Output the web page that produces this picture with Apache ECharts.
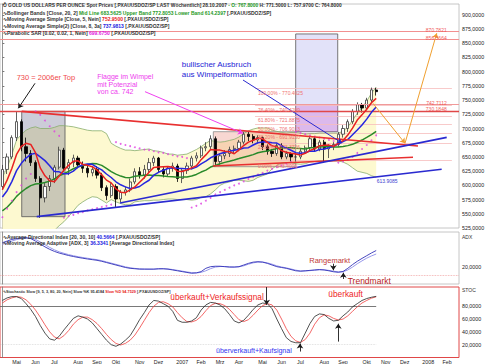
<!DOCTYPE html>
<html>
<head>
<meta charset="utf-8">
<script src="https://cdn.jsdelivr.net/npm/echarts@6/dist/echarts.min.js"></script>
<style>
html,body{margin:0;padding:0;background:#fff;}
#chart{width:489px;height:364px;}
</style>
</head>
<body>
<div id="chart"></div>
<script>
// ---------- categories (weekly) ----------
const firstWeekUTC = Date.UTC(2006, 3, 16);
const weekCount = 97;
const categories = [];
for (let i = 0; i < weekCount; i++) categories.push(new Date(firstWeekUTC + i * 604800000).toISOString().slice(0, 10));
const monthNames = ['Jan','Feb','Mrz','Apr','Mai','Jun','Jul','Aug','Sep','Okt','Nov','Dez'];

// ---------- price (weekly OHLC) ----------
const open  = [598,628,650,684,712,668,656,640,612,578, 598,612,632,662,630,640,648,636,630,622, 628,618,596,582,598,576,588,592,606,624, 618,628,640,648,628,620,630,634,612,626, 634,648,652,666,668,682,642,652,656,663, 665,676,690,686,680,684,668,660,656,670, 650,656,650,650,660,666,682,664,676,664, 668,672,690,700,712,730,742,736,750,767.8];
const close = [628,650,684,712,668,656,640,612,578,598, 612,632,662,630,640,648,636,630,622,628, 618,596,582,598,576,588,592,606,624,618, 628,640,648,628,620,630,634,612,626,634, 648,652,666,668,682,642,652,656,663,665, 676,690,686,680,684,668,660,656,670,650, 656,650,650,660,666,682,664,676,664,668, 672,690,700,712,730,742,736,750,768,764.8];
const low   = [592,620,646,678,660,642,634,606,543,570, 590,604,628,624,618,632,630,622,614,616, 612,590,574,578,562,570,582,588,602,612, 612,622,634,622,614,616,624,606,604,620, 628,642,648,660,662,636,636,646,650,656, 660,672,678,674,674,662,654,650,652,646, 646,642,642,646,656,662,660,660,640,648, 662,668,684,694,708,724,728,732,746,757.97];
const high  = [636,656,688,730,716,684,662,644,616,604, 618,636,668,666,646,654,652,642,636,632, 634,622,600,604,602,592,598,612,630,632, 636,648,652,650,632,634,640,638,630,640, 652,658,670,676,688,686,656,662,668,670, 680,694,694,690,688,686,672,664,674,674, 660,658,656,664,670,686,686,680,680,672, 676,694,706,716,734,746,745,754,772,771.5];

// ---------- overlays ----------
const bbMid   = [555.3,561.5,570.2,580.6,588.2,594.5,599.5,602.5,603.4,604.9, 607.5,611.4,617,620.5,624.7,629.2,632.7,635.1,636.8,638.3, 637.8,635.1,630,624.3,619.7,616.3,613.9,613.6,615.9,616.9, 617.7,618.1,617.4,617.3,616.3,615.4,615.3,614.4,614.6,614.9, 616.4,619.2,623.4,626.9,632.2,634.9,637.9,640.4,642.4,644.7, 647.1,649.6,651.5,654.1,657.3,659.2,660.5,662.7,664.9,665.7, 666.1,666,665.2,664.8,664,666,666.6,667.6,667.7,667.8, 667.6,667.6,668.3,669.9,672.2,675.9,679.7,684.4,689.3,695];
const bbUpper = [614,631,654,680,689,697,701,703,700,700, 700,702,705,705,704,703,701,699,697,696, 696,696,691,674,669,665,662,662,661,662, 663,664,661,660,658,655,655,653,654,655, 659,663,668,674,679,677,676,677,679,681, 685,691,696,699,701,701,701,697,695,693, 692,693,693,692,690,691,691,692,692,692, 692,692,695,703,714,727,737,748,762,772.8];
const bbLower = [496,492,486,482,487,492,498,502,507,510, 515,521,529,536,545,555,565,571,576,580, 579,574,569,575,571,568,566,566,571,572, 573,573,574,574,575,576,576,575,575,575, 574,575,579,580,585,592,600,604,606,609, 609,608,607,609,614,617,620,629,635,639, 640,640,638,637,638,641,642,643,643,643, 643,643,641,637,631,625,623,621,617,614.2];
const sma5    = [592.2,609.2,629.6,654.4,668.4,674,672,657.6,630.8,616.8, 608,606.4,616.4,626.8,635.2,642.4,643.2,636.8,635.2,632.8, 626.8,618.8,609.2,604.4,594,588,587.2,592,597.2,605.6, 613.6,623.2,631.6,632.4,632.8,633.2,632,624.8,624.4,627.2, 630.8,634.4,645.2,653.6,663.2,662,662,660,659,655.6, 662.4,670,676,679.4,683.2,681.6,675.6,669.6,667.6,660.8, 658.4,656.4,655.2,653.2,656.4,661.6,664.4,669.6,670.4,670.8, 668.8,674,678.8,688.4,700.8,714.8,724,734,745.2,752.95];
const sma8    = [579.4,590.6,606.6,625.9,638.8,648,654.5,656.3,650,643.5, 634.5,624.5,623.8,620.5,620.5,625,632.3,636.3,637.5,637, 631.5,627.3,620,613.8,606.3,601,597.3,594.5,595.3,598, 603.8,609,618,623,626.5,629.5,630.8,630,629.8,629, 629,632,637.8,642.5,648.5,652.3,655.5,658.3,660.1,661.8, 663,665.8,666.3,671,675,676.5,676.1,675,674.3,669.3, 665.5,661.8,657.5,656.5,657.3,660.5,659.8,663,664,666.3, 669,672.8,677,680.8,689,697.3,706.3,716.5,728.5,737.98];
const psar    = [544,559,573,588,600,612,620,730,724,714, 704,695,687,543,546,548,551,553,556,558, 560,562,564,566,676,673,671,669,667,665, 663,662,660,658,657,655,653,651,650,648, 561,564,568,573,578,584,588,592,596,600, 603,607,611,615,619,622,626,629,632,635, 638,641,694,692,690,688,686,684,682,680, 678,640,642,645,650,657,664,671,679,688];

// ---------- ADX panel ----------
const adx   = [50,52,54,55,56,56,55,52,48.5,45, 42,39.5,37.5,36,34.5,33.3,32.2,31.2,30.3,29.5, 28.7,27.5,26,24.5,23,21.5,20,19,18.5,18, 18,18,18,18.5,18.5,18,17,16,15,14, 13,13.5,15,19,21,21.5,21.5,21,20.5,20.5, 21,23,25,26.5,27,26.5,25,23,21,20, 19,17.5,16,15.5,16,16.5,17,17.5,17,16, 14.8,14.2,15.2,19,23.5,27.5,31,34.3,37.6,40.5664];
const adxMA = [48,50,52,53.8,55,55.8,55.6,54,51,47.6, 44.3,41.4,39,37.2,35.6,34.3,33.1,32.1,31.2,30.3, 29.5,28.3,26.8,25.3,23.8,22.3,20.8,19.7,18.9,18.4, 18.1,18,18,18.2,18.4,18.2,17.5,16.6,15.6,14.6, 13.8,13.4,14.1,16,18.6,20.5,21.2,21.2,20.8,20.6, 20.8,22,24,25.6,26.6,26.6,25.6,24,22,20.6, 19.5,18.2,16.8,15.8,15.8,16.2,16.7,17.2,17.2,16.5, 15.5,14.7,14.8,17,20.5,24.5,28,31.3,34,36.3341];

// ---------- Stochastic panel ----------
const stochK = [89,93,95,95,92,84,75,64,50,38, 29,27,33,43,52,61,65,63,60,54, 45,36,27,20,17.5,21,27,34,46,59, 70,82,89,88,84,80,72,58,55,55, 57,62,74,82,86,85,82,76,67,57, 54,58,66,75,82,85,84,76,60,45, 31,25,23,23,38,53,64,68,67,61, 57,58,65,71,79,84,89,92,94,95.4184];
const stochD = [85,90,93,95,94,90,83,74,63,51, 40,32,29,34,42,52,59,63,63,59, 53,45,36,28,22,19.5,22,27,35,46, 58,70,80,86,87,84,79,70,62,56, 55.5,58,64,73,81,84.5,84,81,75,67, 59,56,59,66,74,81,84,82,74,60, 45,33,26,23.5,28,38,52,62,66.5,65, 61,58.5,60,65,72,79,85,89,92.5,94.7529];

// ---------- drawn annotations (data units: week index, value) ----------
const levelLines = [870.7821, 856.5664, 742.7112, 730.1848];
const trendRed  = [[4.09,730.2,87.83,669.2],[44.5,634.1,86.78,649.4]];
const trendBlue = [[7.26,544.9,92.84,628.3],[24.86,569,93.9,684.5]];
const arrowsMain = [
  {c:[50.85,785.3,71.77,674.5], k:'blue'},
  {c:[30.14,764.8,50.85,691.6], k:'mag'},
  {c:[6.9,779.5,3.37,735.6], k:'black'},
  {c:[78.32,744.3,85.09,674.0], k:'orange'},
  {c:[85.09,674.0,91.79,867.5], k:'orange'}
];
const fibSpan = [53.4, 95.0];
const fibLevels = [[100,770.4025],[76.4,740.4299],[61.8,721.8875],[50,706.9013],[38.2,691.9150],[23.6,673.3726],[0,643.4000]];
const boxes = [
  {c:[4.09,730.18,13.24,544.9], k:'gray'},
  {c:[44.58,694.4,61.99,632.8], k:'salmon'},
  {c:[61.99,866.3,70.87,694.4], k:'lav'},
  {c:[61.99,742.71,70.87,694.4], k:'pink'}
];
const notesMain = [
  {x:3.03, y:790.1, t:'730 = 2006er Top', s:'top'},
  {x:20.06, y:790.6, t:'Flagge im Wimpel', s:'flag'},
  {x:20.06, y:777.4, t:'mit Potenzial', s:'flag'},
  {x:20.06, y:764.8, t:'von ca. 742', s:'flag'},
  {x:37.9, y:813, t:'bullischer Ausbruch', s:'blue'},
  {x:37.9, y:795.4, t:'aus Wimpelformation', s:'blue'},
  {x:79.1, y:608.2, t:'613.9085', s:'bbl'},
  {x:93.9, y:873.3, t:'870.7821', s:'lvl'},
  {x:93.9, y:859.2, t:'856.5664', s:'lvl'},
  {x:93.9, y:745.4, t:'742.7112', s:'lvl'},
  {x:93.9, y:734.9, t:'730.1848', s:'lvl'}
];
const fibLabelY = [761.9,732.6,715.0,699.7,685.6,667.0,634.1];
const notesADX = [
  {x:64.86, y:28.2, t:'Rangemarkt', s:'range'},
  {x:72.98, y:4.0, t:'Trendmarkt', s:'trend'}
];
const arrowsADX = [[69.94,24.6,69.94,16.6],[72.05,6.1,72.05,13.7]];
const notesStoch = [
  {x:35.5, y:94.5, t:'überkauft+Verkaufssignal', s:'ok'},
  {x:68.88, y:99.1, t:'überkauft', s:'ok'},
  {x:45.15, y:10.8, t:'überverkauft+Kaufsignal', s:'ov'}
];
const arrowsStoch = [[55.86,110,55.86,82.2],[62.9,9.3,62.9,21.7],[70.99,24.8,70.99,52.7]];
const stochLevels = [[80,'#6a6a6a','solid'],[20,'#b0b0b0','dotted']];

// ---------- styles ----------
const FONT = 'Liberation Sans, Arial, Helvetica, sans-serif';
const noteStyles = {
  top:{c:'#f04a4a', f:7.5}, flag:{c:'#ee3cee', f:7}, blue:{c:'#2626d6', f:8},
  bbl:{c:'#4040d0', f:5}, lvl:{c:'#f05a5a', f:5, a:'right'}, fib:{c:'#f07070', f:5},
  range:{c:'#c03838', f:7.5}, trend:{c:'#b82424', f:8.5}, ok:{c:'#ee1e1e', f:8.3}, ov:{c:'#3434f0', f:7}
};
const arrowColors = {blue:'#2a2ad0', mag:'#f040f0', black:'#1a1a1a', orange:'#f0a030'};
const boxStyles = {
  gray:{fill:'rgba(85,85,125,0.30)', stroke:'#555'},
  salmon:{fill:'rgba(235,140,125,0.35)', stroke:'#8a8a8a'},
  lav:{fill:'rgba(150,150,235,0.28)', stroke:'#555'},
  pink:{fill:'rgba(205,90,205,0.30)', stroke:null}
};
const fmt4 = v => v.toFixed(4).replace('.', ',');

function textSeries(xi, yi, notes) {
  return {
    type:'custom', xAxisIndex:xi, yAxisIndex:yi, z:30, silent:true, clip:false,
    data: notes.map(n => [n.x, n.y]),
    renderItem: (params, api) => {
      const n = notes[params.dataIndex];
      const s = noteStyles[n.s];
      const p = api.coord([api.value(0), api.value(1)]);
      return {type:'text', x:p[0], y:p[1], style:{text:n.t, fill:s.c, fontSize:s.f, fontFamily:FONT, align:s.a || 'left', verticalAlign:'middle'}};
    }
  };
}
function lineSeries(xi, yi, segs, color, width, arrow, z) {
  return {
    type:'lines', coordinateSystem:'cartesian2d', xAxisIndex:xi, yAxisIndex:yi, silent:true, z:z || 20,
    symbol: arrow ? ['none','arrow'] : ['none','none'], symbolSize: arrow ? 5 : 0,
    lineStyle:{color:color, width:width, opacity:1, curveness:0},
    data: segs.map(c => ({coords:[[c[0],c[1]],[c[2],c[3]]]}))
  };
}

const candleData = open.map((o, i) => [o, close[i], low[i], high[i]]);
const bandWidth = bbUpper.map((u, i) => u - bbLower[i]);
const last = close.length - 1;

const fibNotes = fibLevels.map((f, i) => ({x: fibSpan[0] + 0.6, y: fibLabelY[i], t: f[0].toFixed(2) + '% - ' + f[1].toFixed(4), s:'fib'}));

function makeRich(size) {
  return {
    d:{color:'#333', fontSize:size, fontFamily:FONT},
    g:{color:'#1f9a1f', fontSize:size, fontFamily:FONT},
    r:{color:'#e82020', fontSize:size, fontFamily:FONT},
    b:{color:'#2020e0', fontSize:size, fontFamily:FONT},
    m:{color:'#e020e0', fontSize:size, fontFamily:FONT}
  };
}
function legendLine(top, text, size) {
  const s = size || 5;
  return {left:3, top:top, text:text, textStyle:{rich:makeRich(s), fontSize:s, lineHeight:s + 1}, padding:0};
}

const option = {
  animation:false,
  backgroundColor:'#fff',
  title:[
    legendLine(2.5, '{d|Ô GOLD US DOLLARS PER OUNCE Spot Prices [.PXAUUSDOZ/SP LAST Wöchentlich] 28.10.2007 }{g|- O: 767.8000}{d| H: 771.5000 L: 757.9700 C: 764.8000}', 4.85),
    legendLine(9.7, '{d|∿Bollinger Bands [Close, 20, 2] }{g|Mid Line 683.5625 Upper Band 772.8053 Lower Band 614.2397}{d| [.PXAUUSDOZ/SP]}'),
    legendLine(16.2, '{d|∿Moving Average Simple [Close, 5, Nein] }{r|752.9500}{d| [.PXAUUSDOZ/SP]}'),
    legendLine(22.7, '{d|∿Moving Average Simple(2) [Close, 8, 3a] }{b|737.9813}{d| [.PXAUUSDOZ/SP]}'),
    legendLine(29.5, '{d|∿Parabolic SAR [0.02, 0.02, 1, Nein] }{m|699.6750}{d| [.PXAUUSDOZ/SP]}'),
    legendLine(233.5, '{d|∿Average Directional Index [20, 30, 10] }{b|40.5664}{d| [.PXAUUSDOZ/SP]}'),
    legendLine(240.3, '{d|∿Moving Average Adaptive [ADX, 3] }{b|36.3341}{d| [Average Directional Index]}'),
    legendLine(289.2, '{d|∿Stochastic Slow [9, 5, 3, 80, 20, Nein] Slow %K 95.4184 }{r|Slow %D 94.7529}{d| [.PXAUUSDOZ/SP]}', 3.8),
    {left:462, top:234.5, text:'ADX', textStyle:{fontSize:5, color:'#333', fontFamily:FONT, fontWeight:'normal'}, padding:0},
    {left:462, top:287.6, text:'STOC', textStyle:{fontSize:5, color:'#333', fontFamily:FONT, fontWeight:'normal'}, padding:0}
  ],
  grid:[
    {left:0, top:4, width:459, height:224, show:true, borderColor:'#b8b8b8', borderWidth:0.8, backgroundColor:'transparent'},
    {left:0, top:232, width:459, height:52, show:true, borderColor:'#b8b8b8', borderWidth:0.8, backgroundColor:'transparent'},
    {left:0, top:287, width:459, height:71, show:true, borderColor:'#e04848', borderWidth:1, backgroundColor:'transparent'}
  ],
  xAxis:[
    {type:'category', gridIndex:0, data:categories, show:false},
    {type:'category', gridIndex:1, data:categories, show:false},
    {type:'category', gridIndex:2, data:categories,
      axisLine:{show:false}, axisTick:{show:false}, splitLine:{show:false},
      axisLabel:{fontSize:5.3, color:'#222', fontFamily:FONT, margin:1.5,
        interval:(idx, val) => +val.slice(8, 10) <= 7,
        formatter:(val) => { const m = +val.slice(5, 7); return m === 1 ? val.slice(0, 4) : monthNames[m - 1]; }}},
    {type:'value', gridIndex:0, min:-0.5, max:96.5, show:false},
    {type:'value', gridIndex:1, min:-0.5, max:96.5, show:false},
    {type:'value', gridIndex:2, min:-0.5, max:96.5, show:false}
  ],
  yAxis:[
    {type:'value', gridIndex:0, position:'right', min:525, max:919, interval:25,
      axisLine:{show:true, lineStyle:{color:'#777', width:0.8}}, axisTick:{show:true, length:2, lineStyle:{color:'#777'}},
      splitLine:{show:false},
      axisLabel:{fontSize:5.3, color:'#222', fontFamily:FONT, margin:3, formatter:v => (v % 25 === 0 && v <= 900) ? fmt4(v) : ''}},
    {type:'value', gridIndex:1, position:'right', min:0, max:63, interval:20,
      axisLine:{show:true, lineStyle:{color:'#777', width:0.8}}, axisTick:{show:false}, splitLine:{show:false},
      axisLabel:{fontSize:5.3, color:'#222', fontFamily:FONT, margin:3, formatter:v => v === 20 ? fmt4(v) : ''}},
    {type:'value', gridIndex:2, position:'right', min:0, max:110, interval:20,
      axisLine:{show:true, lineStyle:{color:'#777', width:0.8}}, axisTick:{show:false}, splitLine:{show:false},
      axisLabel:{fontSize:5.3, color:'#222', fontFamily:FONT, margin:3, formatter:v => (v >= 20 && v <= 80) ? fmt4(v) : ''}}
  ],
  series:[
    // Bollinger fill
    {type:'line', xAxisIndex:0, yAxisIndex:0, data:bbLower, stack:'bb', symbol:'none', silent:true, lineStyle:{opacity:0}, z:1},
    {type:'line', xAxisIndex:0, yAxisIndex:0, data:bandWidth, stack:'bb', symbol:'none', silent:true, lineStyle:{opacity:0}, areaStyle:{color:'#fdf9d0', opacity:1}, z:1},
    // boxes
    {type:'custom', xAxisIndex:3, yAxisIndex:0, z:2, silent:true,
      data: boxes.map(b => b.c),
      renderItem:(params, api) => {
        const st = boxStyles[boxes[params.dataIndex].k];
        const p1 = api.coord([api.value(0), api.value(1)]);
        const p2 = api.coord([api.value(2), api.value(3)]);
        return {type:'rect', shape:{x:Math.min(p1[0],p2[0]), y:Math.min(p1[1],p2[1]), width:Math.abs(p2[0]-p1[0]), height:Math.abs(p2[1]-p1[1])},
          style:{fill:st.fill, stroke:st.stroke || 'none', lineWidth:0.8}};
      }},
    // fib lines
    lineSeries(3, 0, fibLevels.map(f => [fibSpan[0], f[1], fibSpan[1], f[1]]), '#f6bcbc', 0.8, false, 3),
    // band lines
    {type:'line', xAxisIndex:0, yAxisIndex:0, data:bbUpper, symbol:'none', silent:true, lineStyle:{color:'#88ad6c', width:0.8}, z:3},
    {type:'line', xAxisIndex:0, yAxisIndex:0, data:bbLower, symbol:'none', silent:true, lineStyle:{color:'#88ad6c', width:0.8}, z:3},
    // candles
    {type:'candlestick', xAxisIndex:0, yAxisIndex:0, data:candleData, barWidth:2.7, z:4, silent:true,
      itemStyle:{color:'#ffffff', color0:'#000000', borderColor:'#3a3a3a', borderColor0:'#000000', borderWidth:0.8},
      markLine:{symbol:['none','none'], silent:true, animation:false,
        data:[
          {yAxis:levelLines[0], lineStyle:{color:'#f29090', width:1, type:'solid'}, label:{show:false}},
          {yAxis:levelLines[1], lineStyle:{color:'#f29090', width:1, type:'solid'}, label:{show:false}},
          {yAxis:levelLines[2], lineStyle:{color:'#f09a9a', width:1, type:'solid'}, label:{show:false}},
          {yAxis:levelLines[3], lineStyle:{color:'#e04848', width:1.3, type:'solid'}, label:{show:false}},
          {yAxis:close[last], lineStyle:{opacity:0}, label:{show:true, position:'end', formatter:fmt4(close[last]), fontSize:5.3, fontFamily:FONT, color:'#111', backgroundColor:'#fff', borderColor:'#333', borderWidth:0.7, padding:[1,2,0,2], distance:3}}
        ]}},
    // moving averages
    {type:'line', xAxisIndex:0, yAxisIndex:0, data:bbMid, symbol:'none', silent:true, lineStyle:{color:'#2a8a2a', width:1.5}, z:5},
    {type:'line', xAxisIndex:0, yAxisIndex:0, data:sma8, symbol:'none', silent:true, lineStyle:{color:'#2626e0', width:1.5}, z:5},
    {type:'line', xAxisIndex:0, yAxisIndex:0, data:sma5, symbol:'none', silent:true, lineStyle:{color:'#e82020', width:1.5}, z:6},
    // PSAR
    {type:'scatter', xAxisIndex:0, yAxisIndex:0, data:psar, symbol:'circle', symbolSize:1.9, silent:true, itemStyle:{color:'#e040e0'}, z:7},
    // trend lines / arrows
    lineSeries(3, 0, trendRed, '#e83030', 1.6, false, 8),
    lineSeries(3, 0, trendBlue, '#2a2ad0', 1.7, false, 8),
    ...['blue','mag','black','orange'].map(k => lineSeries(3, 0, arrowsMain.filter(a => a.k === k).map(a => a.c), arrowColors[k], 1, true, 9)),
    textSeries(3, 0, notesMain),
    textSeries(3, 0, fibNotes),

    // ADX
    {type:'line', xAxisIndex:1, yAxisIndex:1, data:adxMA, symbol:'none', silent:true, lineStyle:{color:'#8c8ce8', width:0.9}, z:3},
    {type:'line', xAxisIndex:1, yAxisIndex:1, data:adx, symbol:'none', silent:true, lineStyle:{color:'#3232b8', width:0.9}, z:4,
      markLine:{symbol:['none','none'], silent:true, animation:false,
        data:[
          {yAxis:10, lineStyle:{color:'#f0a0a0', width:0.8, type:'dotted'}, label:{show:false}},
          {yAxis:adx[last], lineStyle:{opacity:0}, label:{show:true, position:'end', formatter:fmt4(adx[last]), fontSize:5.3, fontFamily:FONT, color:'#111', backgroundColor:'#fff', borderColor:'#333', borderWidth:0.7, padding:[1,2,0,2], distance:3}}
        ]}},
    lineSeries(4, 1, arrowsADX, '#1a1a1a', 0.9, true, 9),
    textSeries(4, 1, notesADX),

    // Stochastic
    lineSeries(5, 2, [[-0.5, stochLevels[0][0], 79, stochLevels[0][0]]], stochLevels[0][1], 0.9, false, 2),
    {type:'lines', coordinateSystem:'cartesian2d', xAxisIndex:5, yAxisIndex:2, silent:true, z:2, symbol:['none','none'],
      lineStyle:{color:stochLevels[1][1], width:0.8, type:'dotted'}, data:[{coords:[[-0.5, stochLevels[1][0]],[79, stochLevels[1][0]]]}]},
    {type:'line', xAxisIndex:2, yAxisIndex:2, data:stochD, symbol:'none', silent:true, lineStyle:{color:'#f04040', width:0.8}, z:3},
    {type:'line', xAxisIndex:2, yAxisIndex:2, data:stochK, symbol:'none', silent:true, lineStyle:{color:'#262626', width:0.8}, z:4,
      markLine:{symbol:['none','none'], silent:true, animation:false,
        data:[
          {yAxis:stochK[last], lineStyle:{opacity:0}, label:{show:true, position:'end', formatter:fmt4(stochK[last]), fontSize:5.3, fontFamily:FONT, color:'#111', backgroundColor:'#fff', borderColor:'#333', borderWidth:0.7, padding:[1,2,0,2], distance:3}}
        ]}},
    lineSeries(5, 2, arrowsStoch, '#1a1a1a', 0.9, true, 9),
    textSeries(5, 2, notesStoch)
  ]
};

const chart = echarts.init(document.getElementById('chart'), null, {renderer:'svg', width:489, height:364});
chart.setOption(option);
</script>
</body>
</html>
